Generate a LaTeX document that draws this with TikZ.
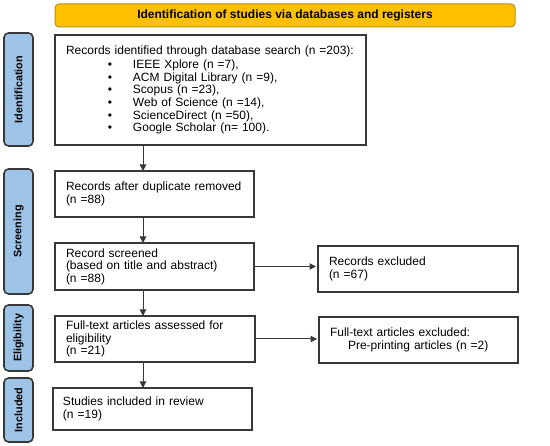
\documentclass[tikz,border=0pt]{standalone}
\usepackage{fontspec}
\setmainfont{Liberation Sans}
\usetikzlibrary{arrows.meta}
\definecolor{hdr}{HTML}{FFC000}
\definecolor{hdrb}{HTML}{B8901A}
\definecolor{sidefill}{HTML}{9DC3E6}
\definecolor{ln}{HTML}{383838}
\begin{document}
\begin{tikzpicture}[x=1pt,y=-1pt,
  box/.style={draw=ln, line width=1.3pt, align=left, inner xsep=11pt, inner ysep=0pt, outer sep=0pt,
    font=\fontsize{12}{12.6}\selectfont},
  sidebox/.style={draw=ln, fill=sidefill, line width=1.6pt, rounded corners=4.5pt, rotate=90,
    minimum height=29pt, inner sep=0pt, outer sep=0pt, font=\bfseries\fontsize{10.8}{12}\selectfont},
  hdrbox/.style={draw=hdrb, fill=hdr, line width=1pt, rounded corners=4pt, inner sep=0pt, outer sep=0pt,
    minimum width=460pt, minimum height=23pt, font=\bfseries\fontsize{12}{14}\selectfont},
  arr/.style={draw=ln, line width=1pt, -{Triangle[length=6.5pt,width=6.5pt]}}]
\useasboundingbox (0,0) rectangle (550,446);
\newcommand{\bul}{\hspace*{42pt}\makebox[25pt][l]{\textbullet}}
\node[hdrbox] (hdr) at (285,15.5) {Identification of studies via databases and registers};
\node[sidebox, minimum width=113pt] (s1) at (18.5,89.5) {Identification};
\node[sidebox, minimum width=125pt] (s2) at (18.5,231.5) {Screening};
\node[sidebox, minimum width=66pt] (s3) at (18.5,338) {Eligibility};
\node[sidebox, minimum width=64pt] (s4) at (18.5,410) {Included};
\node[box, text width=289pt, minimum height=110pt] (b1) at (210.5,90) {Records identified through database search (n =203):\\[1.5pt]
\bul IEEE Xplore (n =7),\\
\bul ACM Digital Library (n =9),\\
\bul Scopus (n =23),\\
\bul Web of Science (n =14),\\
\bul ScienceDirect (n =50),\\
\bul Google Scholar (n= 100).};
\node[box, text width=177pt, minimum height=46pt] (b2) at (154.5,194) {Records after duplicate removed\\(n =88)};
\node[box, text width=177pt, minimum height=47pt] (b3) at (154.5,266.5) {Record screened\\(based on title and abstract)\\(n =88)};
\node[box, text width=178pt, minimum height=46pt] (ex1) at (418,269) {Records excluded\\(n =67)};
\node[box, text width=178pt, minimum height=46pt] (b4) at (155,339) {Full-text articles assessed for\\eligibility\\(n =21)};
\node[box, text width=177pt, minimum height=46pt] (ex2) at (418.5,340) {Full-text articles excluded:\\\hspace*{18pt}Pre-printing articles (n =2)};
\node[box, inner xsep=10pt, text width=179pt, minimum height=42pt] (b5) at (152.5,409) {Studies included in review\\(n =19)};
\coordinate (ax) at (143,0);
\draw[arr] (b1.south -| ax) -- (b2.north -| ax);
\draw[arr] (b2.south -| ax) -- (b3.north -| ax);
\draw[arr] (b3.south -| ax) -- (b4.north -| ax);
\draw[arr] (b4.south -| ax) -- (b5.north -| ax);
\draw[arr, shorten >=2pt, shorten <=1pt] (b3.east) -- (b3.east -| ex1.west);
\draw[arr, shorten >=2pt, shorten <=1pt] (b4.east) -- (b4.east -| ex2.west);
\end{tikzpicture}
\end{document}
